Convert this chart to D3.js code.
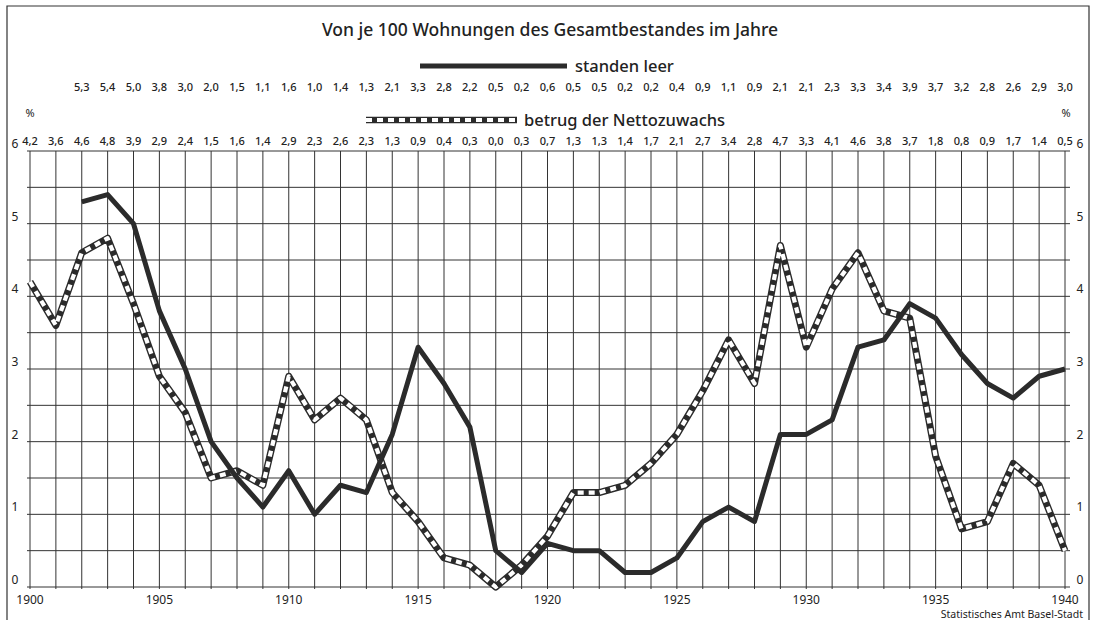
<!DOCTYPE html>
<html>
<head>
<meta charset="utf-8">
<script src="https://cdn.jsdelivr.net/npm/d3@7"></script>
<style>
  body { margin: 0; background: #fff; }
  text { font-family: "Noto Sans", "DejaVu Sans", sans-serif; fill: #222; }
</style>
</head>
<body>
<svg id="chart" width="1098" height="620"></svg>
<script>
// Jahre
var years = d3.range(1900, 1941);

// standen leer (ab 1902)
var leerYears = d3.range(1902, 1941);
var leer = [5.3, 5.4, 5.0, 3.8, 3.0, 2.0, 1.5, 1.1, 1.6, 1.0,
            1.4, 1.3, 2.1, 3.3, 2.8, 2.2, 0.5, 0.2, 0.6, 0.5,
            0.5, 0.2, 0.2, 0.4, 0.9, 1.1, 0.9, 2.1, 2.1, 2.3,
            3.3, 3.4, 3.9, 3.7, 3.2, 2.8, 2.6, 2.9, 3.0];

// betrug der Nettozuwachs (1900-1940)
var netto = [4.2, 3.6, 4.6, 4.8, 3.9, 2.9, 2.4, 1.5, 1.6, 1.4,
             2.9, 2.3, 2.6, 2.3, 1.3, 0.9, 0.4, 0.3, 0.0, 0.3,
             0.7, 1.3, 1.3, 1.4, 1.7, 2.1, 2.7, 3.4, 2.8, 4.7,
             3.3, 4.1, 4.6, 3.8, 3.7, 1.8, 0.8, 0.9, 1.7, 1.4,
             0.5];

var yTicks = [0, 1, 2, 3, 4, 5, 6];
var xTickYears = [1900, 1905, 1910, 1915, 1920, 1925, 1930, 1935, 1940];

var svg = d3.select("#chart");
var fmt = function(v) { return d3.format(".1f")(v).replace(".", ","); };

var x = d3.scaleLinear().domain([1900, 1940]).range([30, 1065]);
var y = d3.scaleLinear().domain([0, 6]).range([587, 151]);

// Rahmen
svg.append("path")
    .attr("d", "M7,620 L7,6 L1089,6 L1089,620")
    .attr("fill", "none")
    .attr("stroke", "#333")
    .attr("stroke-width", 1.2);

// Gitter
var grid = svg.append("g").attr("stroke", "#333").attr("stroke-width", 1);
grid.selectAll("line.v")
    .data(years)
    .enter().append("line")
    .attr("x1", function(d) { return x(d); })
    .attr("x2", function(d) { return x(d); })
    .attr("y1", y(6))
    .attr("y2", y(0) + 2);
grid.selectAll("line.h")
    .data(d3.range(0, 6.01, 0.5))
    .enter().append("line")
    .attr("x1", x(1900) - 3)
    .attr("x2", x(1940) + 5)
    .attr("y1", function(d) { return y(d); })
    .attr("y2", function(d) { return y(d); });

// Achsenbeschriftung links / rechts
svg.selectAll("text.yl")
    .data(yTicks)
    .enter().append("text")
    .attr("x", 15)
    .attr("y", function(d) { return y(d) - 3; })
    .attr("text-anchor", "middle")
    .style("font-size", "12px")
    .text(function(d) { return d; });
svg.selectAll("text.yr")
    .data(yTicks)
    .enter().append("text")
    .attr("x", 1080)
    .attr("y", function(d) { return y(d) - 3; })
    .attr("text-anchor", "middle")
    .style("font-size", "12px")
    .text(function(d) { return d; });

// Jahre unten
svg.selectAll("text.xl")
    .data(xTickYears)
    .enter().append("text")
    .attr("x", function(d) { return x(d); })
    .attr("y", 604)
    .attr("text-anchor", "middle")
    .style("font-size", "12px")
    .text(function(d) { return d; });

svg.append("text")
    .attr("x", 1083)
    .attr("y", 618)
    .attr("text-anchor", "end")
    .style("font-size", "10.5px")
    .text("Statistisches Amt Basel-Stadt");

// Titel
svg.append("text")
    .attr("x", 550)
    .attr("y", 36)
    .attr("text-anchor", "middle")
    .style("font-size", "17.5px")
    .style("font-weight", 500)
    .text("Von je 100 Wohnungen des Gesamtbestandes im Jahre");

// Legende 1
svg.append("line")
    .attr("x1", 420).attr("x2", 567)
    .attr("y1", 66).attr("y2", 66)
    .attr("stroke", "#2b2b2b").attr("stroke-width", 5);
svg.append("text")
    .attr("x", 575).attr("y", 72)
    .style("font-size", "16.5px").style("font-weight", 500)
    .text("standen leer");

// Legende 2
svg.append("line")
    .attr("x1", 366).attr("x2", 517)
    .attr("y1", 120).attr("y2", 120)
    .attr("stroke", "#2b2b2b").attr("stroke-width", 6.5);
svg.append("line")
    .attr("x1", 366).attr("x2", 517)
    .attr("y1", 120).attr("y2", 120)
    .attr("stroke", "#fff").attr("stroke-width", 4)
    .attr("stroke-dasharray", "6,5");
svg.append("text")
    .attr("x", 524).attr("y", 126)
    .style("font-size", "16.5px").style("font-weight", 500)
    .text("betrug der Nettozuwachs");

// Wertzeilen
svg.selectAll("text.v1")
    .data(leer)
    .enter().append("text")
    .attr("x", function(d, i) { return x(leerYears[i]); })
    .attr("y", 91)
    .attr("text-anchor", "middle")
    .style("font-size", "11px")
    .style("font-weight", 500)
    .text(function(d) { return fmt(d); });

svg.selectAll("text.v2")
    .data(netto)
    .enter().append("text")
    .attr("x", function(d, i) { return x(years[i]); })
    .attr("y", 145)
    .attr("text-anchor", "middle")
    .style("font-size", "11px")
    .style("font-weight", 500)
    .text(function(d) { return fmt(d); });

svg.append("text").attr("x", 30).attr("y", 117).attr("text-anchor", "middle")
    .style("font-size", "11px").text("%");
svg.append("text").attr("x", 1066).attr("y", 117).attr("text-anchor", "middle")
    .style("font-size", "11px").text("%");

// Linien
var lineLeer = d3.line()
    .x(function(d, i) { return x(leerYears[i]); })
    .y(function(d) { return y(d); });
var lineNetto = d3.line()
    .x(function(d, i) { return x(years[i]); })
    .y(function(d) { return y(d); });

// Nettozuwachs: dunkler Rand, weisse Striche innen
svg.append("path")
    .datum(netto)
    .attr("d", lineNetto)
    .attr("fill", "none")
    .attr("stroke", "#2b2b2b")
    .attr("stroke-width", 7)
    .attr("stroke-linejoin", "round");
svg.append("path")
    .datum(netto)
    .attr("d", lineNetto)
    .attr("fill", "none")
    .attr("stroke", "#fff")
    .attr("stroke-width", 4.2)
    .attr("stroke-dasharray", "6,5")
    .attr("stroke-linejoin", "round");

svg.append("path")
    .datum(leer)
    .attr("d", lineLeer)
    .attr("fill", "none")
    .attr("stroke", "#2b2b2b")
    .attr("stroke-width", 5)
    .attr("stroke-linejoin", "round");
</script>
</body>
</html>
